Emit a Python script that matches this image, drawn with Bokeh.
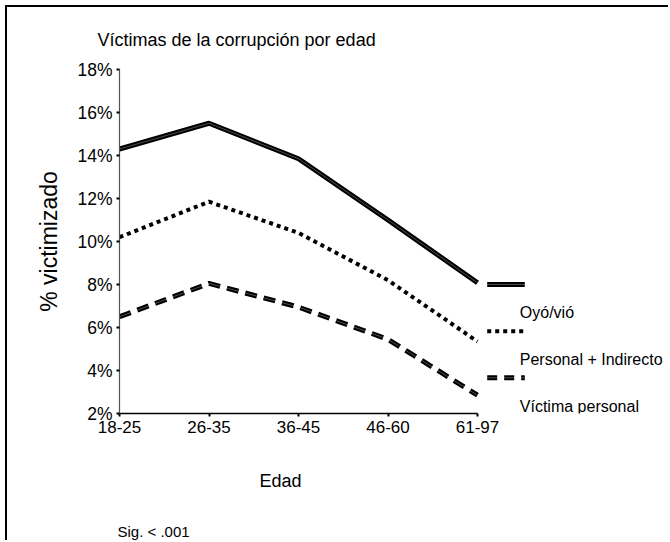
from bokeh.plotting import figure
from bokeh.models import Range1d, FixedTicker, PrintfTickFormatter, Label, Title
from bokeh.embed import file_html
from bokeh.resources import INLINE

# Data: share of respondents victimized by corruption, per age group
ages = ["18-25", "26-35", "36-45", "46-60", "61-97"]
personal_indirecto = [14.3, 15.5, 13.85, 11.0, 8.08]
oyo_vio = [10.2, 11.85, 10.4, 8.2, 5.35]
victima_personal = [6.5, 8.05, 6.95, 5.45, 2.85]
y_ticks = [2, 4, 6, 8, 10, 12, 14, 16, 18]
legend_labels = ["Oyó/vió", "Personal + Indirecto", "Víctima personal"]

FONT = "Liberation Sans"

# Canvas / frame geometry (pixels)
CANVAS_W, CANVAS_H = 663, 535
FRAME_LEFT, FRAME_TOP, FRAME_BOTTOM = 112, 62, 129
STEP_PX = 89.5                     # horizontal distance between age groups
FRAME_H = CANVAS_H - FRAME_TOP - FRAME_BOTTOM
Y0, Y1 = 2, 18
X_END = (CANVAS_W - FRAME_LEFT) / STEP_PX


def px_x(px):
    return (px - FRAME_LEFT) / STEP_PX


def px_y(py):
    return Y0 + (CANVAS_H - FRAME_BOTTOM - py) * (Y1 - Y0) / FRAME_H


p = figure(
    width=CANVAS_W, height=CANVAS_H,
    x_range=Range1d(0, X_END), y_range=Range1d(Y0, Y1),
    output_backend="svg", toolbar_location=None,
    min_border_left=FRAME_LEFT, min_border_right=0,
    min_border_top=FRAME_TOP, min_border_bottom=FRAME_BOTTOM,
    outline_line_color=None, background_fill_color="white",
    border_fill_color="white",
)
p.styles = {
    "margin-left": "5px", "margin-top": "5px",
    "border-top": "2px solid black", "border-left": "2px solid black",
}

p.xgrid.visible = False
p.ygrid.visible = False

# Title
p.title.text = "Víctimas de la corrupción por edad"
p.title.text_font = FONT
p.title.text_font_size = "18px"
p.title.text_font_style = "normal"
p.title.text_color = "black"
p.title.align = "left"
p.title.offset = -22
p.title.standoff = 40

# X axis: age groups
xa = p.xaxis[0]
xa.ticker = FixedTicker(ticks=list(range(len(ages))))
xa.major_label_overrides = {i: a for i, a in enumerate(ages)}
xa.bounds = (0, len(ages) - 1)
xa.minor_tick_line_color = None
xa.major_tick_in = 0
xa.major_tick_out = 3
xa.major_tick_line_width = 2
xa.major_tick_line_color = "black"
xa.axis_line_color = "black"
xa.axis_line_width = 1.5
xa.major_label_standoff = 4
xa.major_label_text_font = FONT
xa.major_label_text_font_size = "17px"
xa.major_label_text_color = "black"

# Y axis: percentages
ya = p.yaxis[0]
ya.ticker = FixedTicker(ticks=y_ticks)
ya.formatter = PrintfTickFormatter(format="%d%%")
ya.minor_tick_line_color = None
ya.major_tick_in = 0
ya.major_tick_out = 3
ya.major_tick_line_width = 2
ya.major_tick_line_color = "black"
ya.axis_line_color = "#555555"
ya.axis_line_width = 1.2
ya.major_label_standoff = 4
ya.major_label_text_font = FONT
ya.major_label_text_font_size = "17.5px"
ya.major_label_text_color = "black"
ya.axis_label = "% victimizado"
ya.axis_label_text_font = FONT
ya.axis_label_text_font_size = "23px"
ya.axis_label_text_font_style = "normal"
ya.axis_label_text_color = "black"
ya.axis_label_standoff = 12

# X axis title and footnote, stacked under the axis
p.add_layout(Title(text="Edad", align="left", offset=140, standoff=67,
                   text_font=FONT, text_font_size="18px",
                   text_font_style="normal", text_color="black"), "below")
p.add_layout(Title(text="Sig. < .001", align="left", offset=-2, standoff=-7,
                   text_font=FONT, text_font_size="15px",
                   text_font_style="normal", text_color="black"), "below")

x = list(range(len(ages)))

# Series lines
p.line(x, personal_indirecto, line_color="black", line_width=5)
p.line(x, personal_indirecto, line_color="#9a9a9a", line_width=0.5)
p.line(x, oyo_vio, line_color="black", line_width=4, line_dash="4 4")
p.line(x, victima_personal, line_color="black", line_width=5, line_dash="12 7")
p.line(x, victima_personal, line_color="#9a9a9a", line_width=0.5, line_dash="12 7")

# Legend keys
kx = [px_x(479.7), px_x(517.3)]
p.line(kx, [px_y(277)] * 2, line_color="black", line_width=5)
p.line(kx, [px_y(277)] * 2, line_color="#9a9a9a", line_width=0.5)
p.line(kx, [px_y(323.7)] * 2, line_color="black", line_width=4, line_dash="4 4")
p.line(kx, [px_y(370.3)] * 2, line_color="black", line_width=5, line_dash="10 7")
p.line(kx, [px_y(370.3)] * 2, line_color="#9a9a9a", line_width=0.5, line_dash="10 7")

for lbl, py in zip(legend_labels, [305, 352, 398.7]):
    p.add_layout(Label(x=px_x(512.3), y=px_y(py), text=lbl, text_font=FONT,
                       text_font_size="16px", text_baseline="middle",
                       text_color="black"))

open("out.html", "w").write(file_html(p, INLINE))
